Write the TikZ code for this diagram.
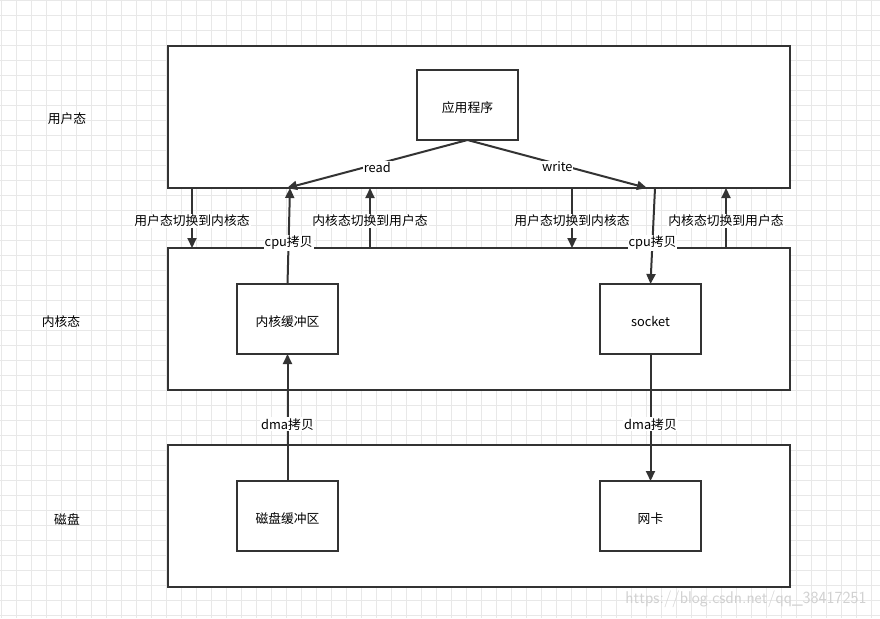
\documentclass[tikz,border=0pt]{standalone}
\usepackage{fontspec}
\setmainfont{Noto Sans CJK SC}
\usetikzlibrary{arrows.meta}
\definecolor{linegray}{HTML}{333333}
\definecolor{gridgray}{HTML}{E8E8E8}
\tikzset{
  layer/.style={draw=linegray, line width=1.8pt, fill=white, outer sep=0pt,
    minimum width=622pt, minimum height=142pt},
  box/.style={draw=linegray, line width=1.8pt, fill=white, outer sep=0pt,
    minimum width=101pt, minimum height=70pt, text height=1.4em, text depth=0em,
    font=\fontsize{12.8}{15}\selectfont},
  flow/.style={draw=linegray, line width=2pt, -{Triangle[length=10pt,width=9pt]}},
  lbl/.style={fill=white, inner sep=1pt, yshift=-3pt, font=\fontsize{12.8}{15}\selectfont},
}
\begin{document}
\begin{tikzpicture}[x=1pt, y=-1pt]
\useasboundingbox (0,0) rectangle (880,618);
\fill[white] (0,0) rectangle (880,618);
\draw[gridgray, line width=0.8pt, xshift=1.5pt, step=15pt] (-15,0) grid (880,618);

\node[layer] (user) at (479,117) {};
\node[layer] (kernel) at (479,319) {};
\node[layer] (disk) at (479,516) {};

\node[lbl, fill=none] (userlbl) at (67,116) {用户态};
\node[lbl, fill=none] (kernellbl) at (61,319) {内核态};
\node[lbl, fill=none] (disklbl) at (67,516) {磁盘};

\node[box] (app) at (467.5,105) {应用程序};
\node[box] (kbuf) at (287.5,319) {内核缓冲区};
\node[box] (sock) at (650.5,319) {socket};
\node[box] (dbuf) at (287.5,516) {磁盘缓冲区};
\node[box] (nic) at (650.5,516) {网卡};

\coordinate (readend) at (287,188);
\coordinate (writeend) at (647,188);
\coordinate (cpuA) at (290,188);
\coordinate (cpuB) at (655,188);
\coordinate (swA1) at (192,188);
\coordinate (swA2) at (192,248);
\coordinate (swB1) at (370,248);
\coordinate (swB2) at (370,188);
\coordinate (swC1) at (572,188);
\coordinate (swC2) at (572,248);
\coordinate (swD1) at (726,248);
\coordinate (swD2) at (726,188);

\draw[flow] (app.south) -- (readend) node[lbl, pos=0.5] {read};
\draw[flow] (app.south) -- (writeend) node[lbl, pos=0.5] {write};

\draw[flow] (swA1) -- (swA2) node[lbl, midway] {用户态切换到内核态};
\draw[flow] (swB1) -- (swB2) node[lbl, midway] {内核态切换到用户态};
\draw[flow] (swC1) -- (swC2) node[lbl, midway] {用户态切换到内核态};
\draw[flow] (swD1) -- (swD2) node[lbl, midway] {内核态切换到用户态};

\draw[flow] (kbuf.north) -- (cpuA) node[lbl, pos=0.46] {cpu拷贝};
\draw[flow] (cpuB) -- (sock.north) node[lbl, pos=0.54] {cpu拷贝};

\draw[flow] (dbuf.north) -- (kbuf.south) node[lbl, pos=0.47] {dma拷贝};
\draw[flow] (sock.south) -- (nic.north) node[lbl, pos=0.53] {dma拷贝};

\node[text=black!18, font=\fontsize{17}{20}\selectfont\sffamily] (mark) at (746,599) {https://blog.csdn.net/qq\_38417251};
\end{tikzpicture}
\end{document}
